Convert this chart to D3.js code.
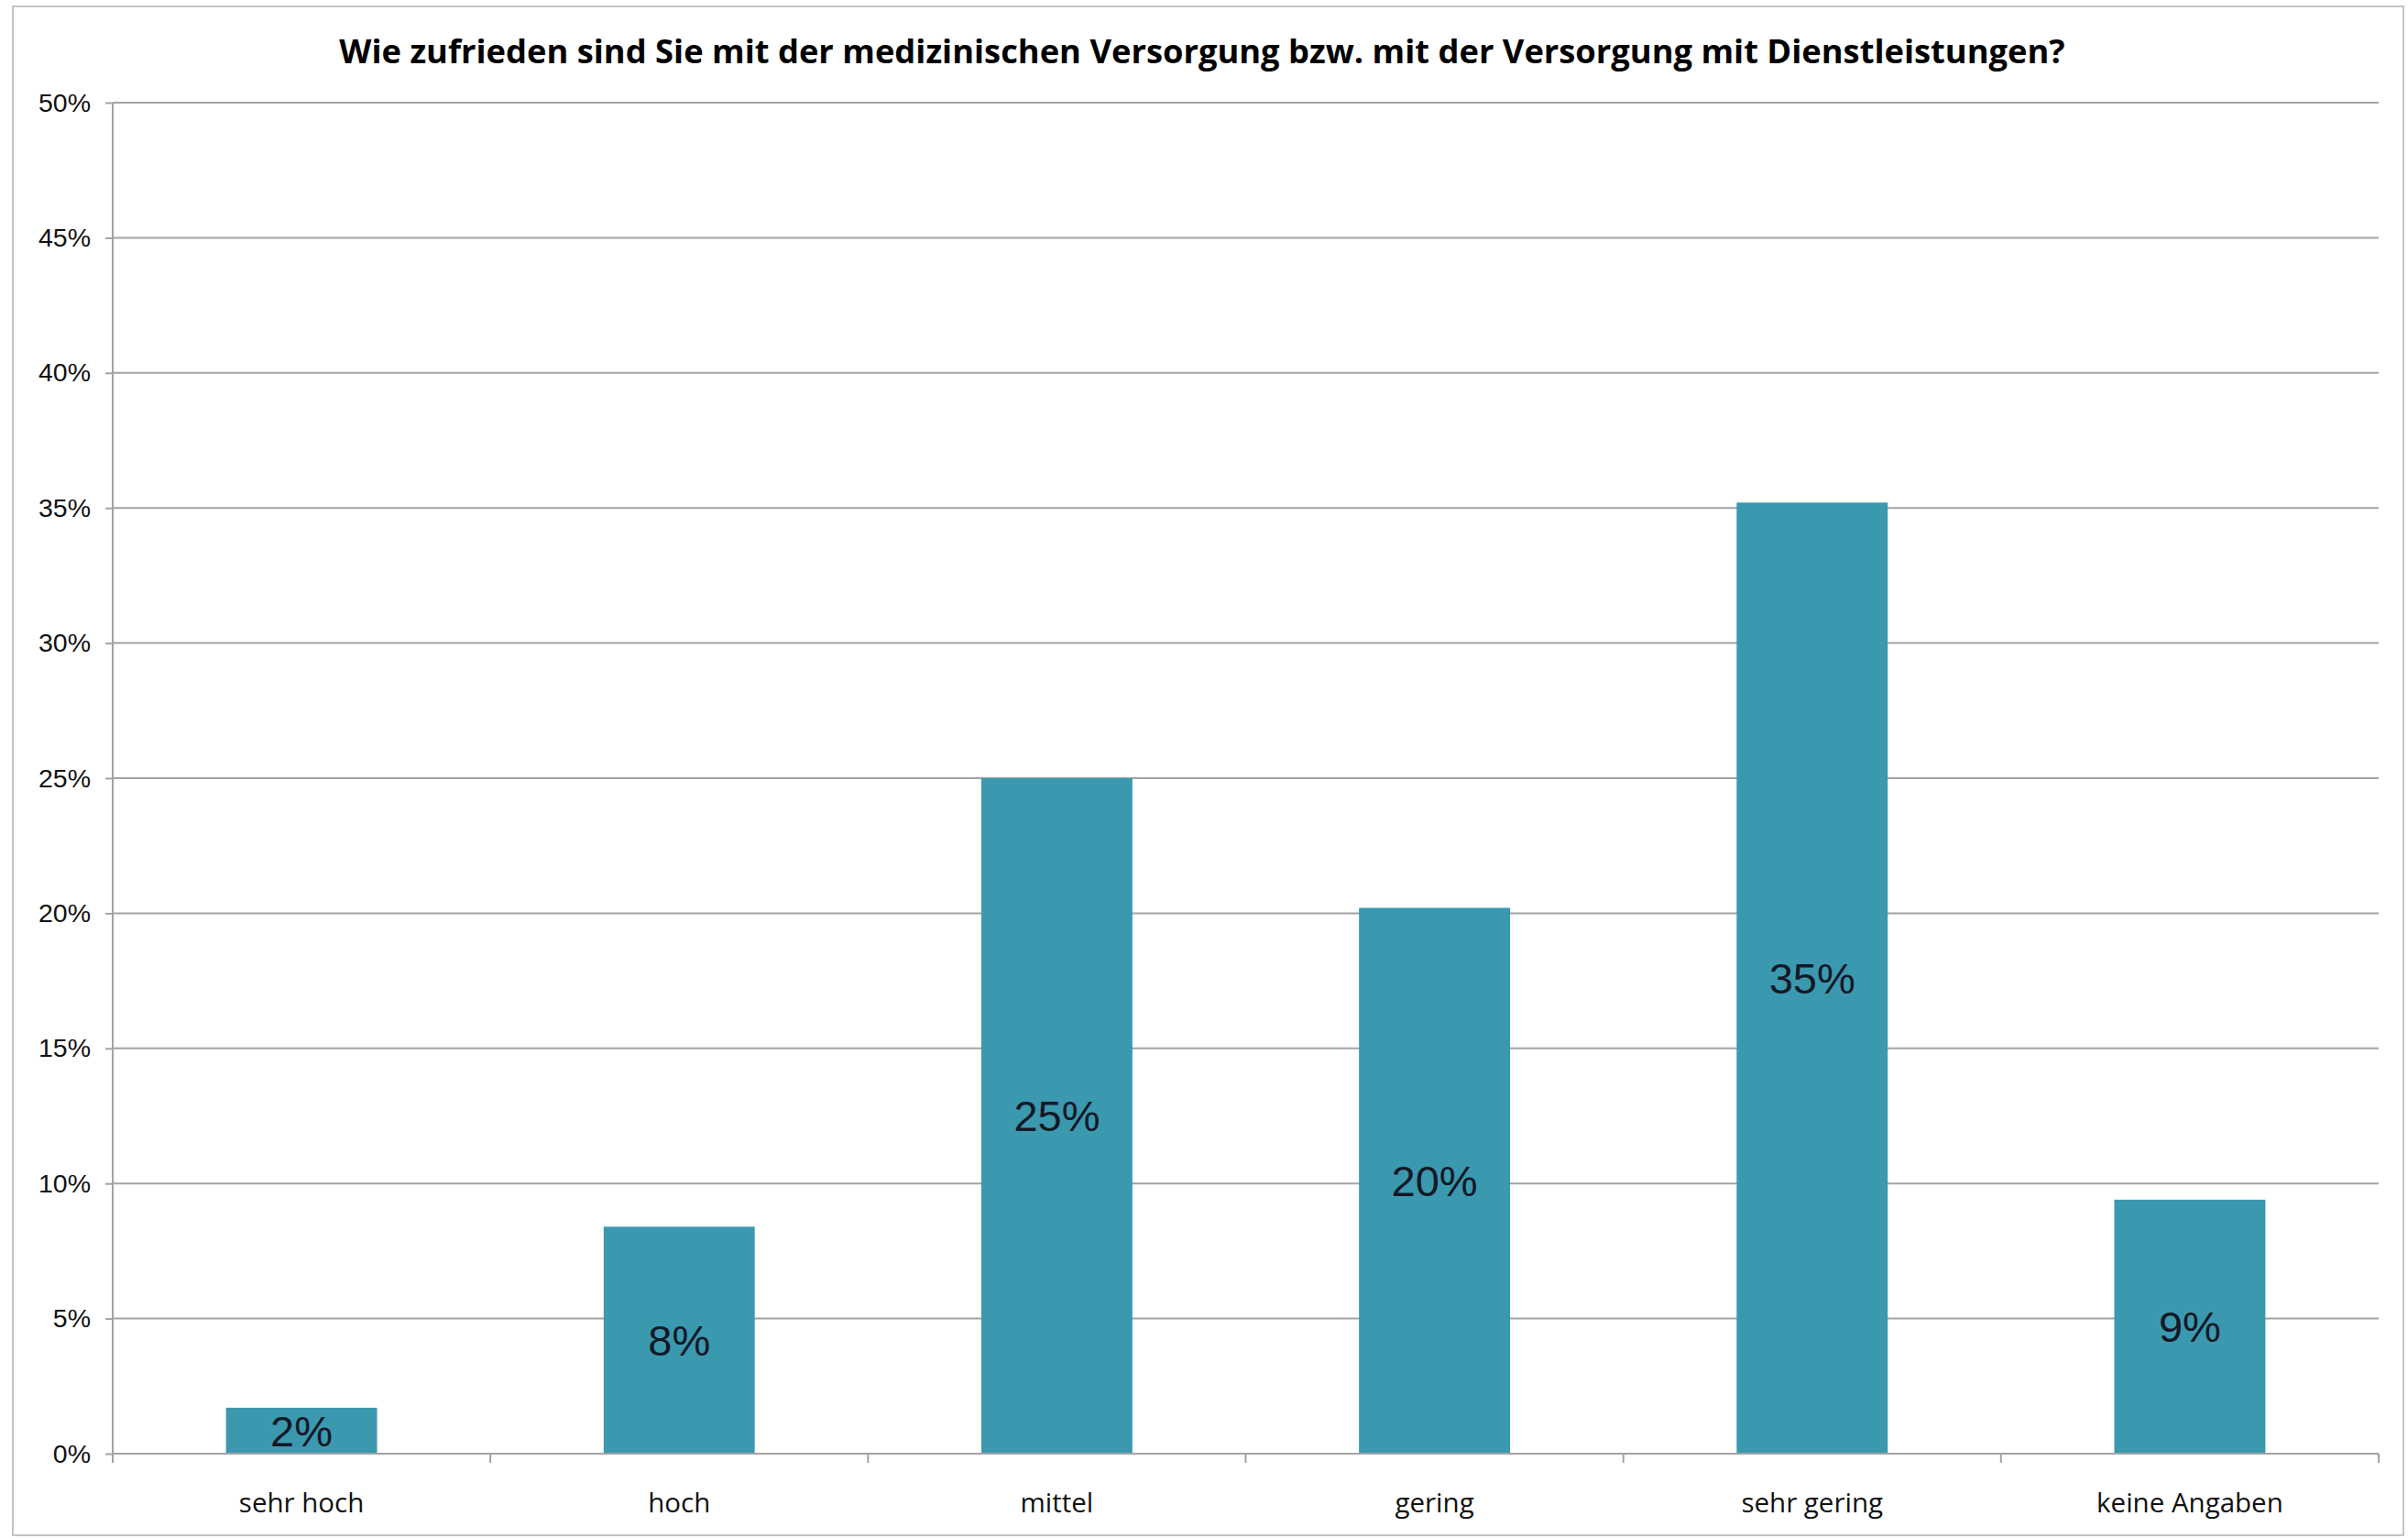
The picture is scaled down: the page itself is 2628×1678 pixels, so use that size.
<!DOCTYPE html>
<html>
<head>
<meta charset="utf-8">
<script src="https://cdn.jsdelivr.net/npm/d3@7"></script>
<style>
  body { margin: 0; background: #fff; }
  svg { display: block; }
</style>
</head>
<body>
<div id="chart"></div>
<script>
// chart data
const categories = ["sehr hoch", "hoch", "mittel", "gering", "sehr gering", "keine Angaben"];
const values = [1.7, 8.4, 25.0, 20.2, 35.2, 9.4];
const valueLabels = ["2%", "8%", "25%", "20%", "35%", "9%"];
const yTicks = [0, 5, 10, 15, 20, 25, 30, 35, 40, 45, 50];
const title = "Wie zufrieden sind Sie mit der medizinischen Versorgung bzw. mit der Versorgung mit Dienstleistungen?";

let width = 2628, height = 1678;
let margin = {top: 112, right: 32, bottom: 92, left: 123};

let svg = d3.select("#chart")
    .append("svg")
    .attr("width", width)
    .attr("height", height);

// outer frame
svg.append("rect")
    .attr("x", 14).attr("y", 7)
    .attr("width", 2609).attr("height", 1668)
    .attr("fill", "#fff")
    .attr("stroke", "#c4c4c4")
    .attr("stroke-width", 2);

svg.append("text")
    .attr("x", 1312)
    .attr("y", 69)
    .attr("text-anchor", "middle")
    .style("font-family", "'Open Sans', sans-serif")
    .style("font-weight", "bold")
    .style("font-size", "36.3px")
    .text(title);

let x = d3.scaleBand()
    .domain(categories)
    .range([margin.left, width - margin.right])
    .paddingInner(0.6)
    .paddingOuter(0.3);

let y = d3.scaleLinear()
    .domain([0, 50])
    .range([height - margin.bottom, margin.top]);

// gridlines
svg.append("g")
    .selectAll("line")
    .data(yTicks)
    .enter().append("line")
    .attr("x1", margin.left)
    .attr("x2", width - margin.right)
    .attr("y1", d => y(d))
    .attr("y2", d => y(d))
    .attr("stroke", "#a3a3a3")
    .attr("stroke-width", 2);

// y axis
let yAxis = svg.append("g")
    .attr("transform", `translate(${margin.left},0)`)
    .call(d3.axisLeft(y).tickValues(yTicks).tickSize(8).tickPadding(16).tickFormat(d => d + "%"));
yAxis.selectAll("line, path").attr("stroke", "#a3a3a3").attr("stroke-width", 2);
yAxis.select(".domain").attr("d", `M0,${y(0)}V${y(50)}`);
yAxis.selectAll("text")
    .style("font-family", "'Liberation Sans', Arial, sans-serif")
    .style("font-size", "28.5px")
    .attr("fill", "#111");

// bars
svg.append("g")
    .selectAll("rect")
    .data(values)
    .enter().append("rect")
    .attr("x", (d, i) => x(categories[i]))
    .attr("y", d => y(d))
    .attr("width", x.bandwidth())
    .attr("height", d => y(0) - y(d))
    .attr("fill", "#3a99af");

// value labels centred in bars
svg.append("g")
    .selectAll("text")
    .data(values)
    .enter().append("text")
    .attr("x", (d, i) => x(categories[i]) + x.bandwidth() / 2)
    .attr("y", d => (y(d) + y(0)) / 2)
    .attr("dy", "0.36em")
    .attr("text-anchor", "middle")
    .style("font-family", "'Liberation Sans', Arial, sans-serif")
    .style("font-size", "47px")
    .attr("fill", "#141826")
    .text((d, i) => valueLabels[i]);

// x axis with boundary ticks
let bounds = d3.range(categories.length + 1).map(i => margin.left + i * (width - margin.left - margin.right) / categories.length);
let xg = svg.append("g");
xg.append("line")
    .attr("x1", margin.left).attr("x2", width - margin.right)
    .attr("y1", y(0)).attr("y2", y(0))
    .attr("stroke", "#a3a3a3").attr("stroke-width", 2);
xg.selectAll(".tick")
    .data(bounds)
    .enter().append("line")
    .attr("x1", d => d).attr("x2", d => d)
    .attr("y1", y(0)).attr("y2", y(0) + 10)
    .attr("stroke", "#a3a3a3").attr("stroke-width", 2);
xg.selectAll("text")
    .data(categories)
    .enter().append("text")
    .attr("x", d => x(d) + x.bandwidth() / 2)
    .attr("y", 1650)
    .attr("text-anchor", "middle")
    .style("font-family", "'Open Sans', sans-serif")
    .style("font-size", "29.5px")
    .attr("fill", "#111")
    .text(d => d);
</script>
</body>
</html>
